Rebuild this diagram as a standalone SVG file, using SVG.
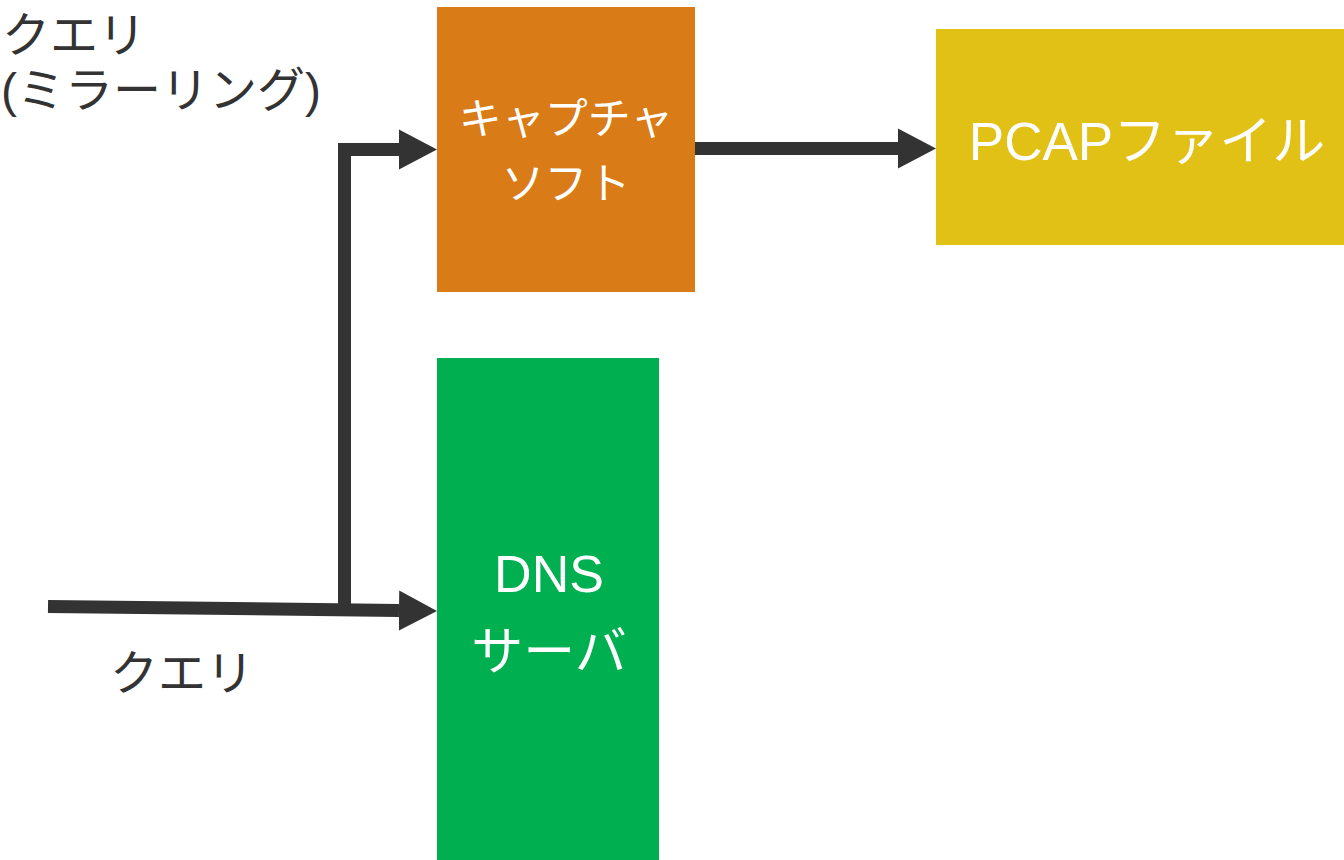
<svg xmlns="http://www.w3.org/2000/svg" width="1344" height="860" viewBox="0 0 1344 860">
  <style>
    .label { font-family: "Liberation Sans", "Noto Sans CJK JP", sans-serif; fill: #333333; font-size: 48px; }
    .node-text { font-family: "Liberation Sans", "Noto Sans CJK JP", sans-serif; fill: #ffffff; text-anchor: middle; }
    .wire { fill: none; stroke: #333333; stroke-width: 13; stroke-linejoin: miter; marker-end: url(#head); }
  </style>
  <defs>
    <marker id="head" markerUnits="userSpaceOnUse" markerWidth="40" markerHeight="42" viewBox="0 -21 40 42" refX="0" refY="0" orient="auto">
      <path d="M0,-20 L38,0 L0,20 Z" fill="#333333"/>
    </marker>
  </defs>
  <rect width="1344" height="860" fill="#ffffff"/>

  <!-- free labels -->
  <text class="label" x="2" y="52">クエリ</text>
  <text class="label" x="1" y="107">(ミラーリング)</text>
  <text class="label" x="110" y="690">クエリ</text>

  <!-- nodes -->
  <g id="capture">
    <rect x="437" y="7" width="258" height="285" fill="#D97B16"/>
    <text class="node-text" x="566" y="134" font-size="43">キャプチャ</text>
    <text class="node-text" x="566" y="199" font-size="43">ソフト</text>
  </g>
  <g id="pcap">
    <rect x="936" y="29" width="408" height="216" fill="#E2C116"/>
    <text class="node-text" x="1147" y="160" font-size="53">PCAPファイル</text>
  </g>
  <g id="dns">
    <rect x="437" y="358" width="222" height="502" fill="#00AF50"/>
    <text class="node-text" x="549" y="592" font-size="52">DNS</text>
    <text class="node-text" x="549" y="670" font-size="52">サーバ</text>
  </g>

  <!-- connectors -->
  <g id="connectors">
    <path class="wire" d="M48,606.5 L399,610.5"/>
    <path class="wire" d="M344.5,609 L344.5,149.5 L399,149.5"/>
    <path class="wire" d="M695,148.5 L898,148.5"/>
  </g>
</svg>
